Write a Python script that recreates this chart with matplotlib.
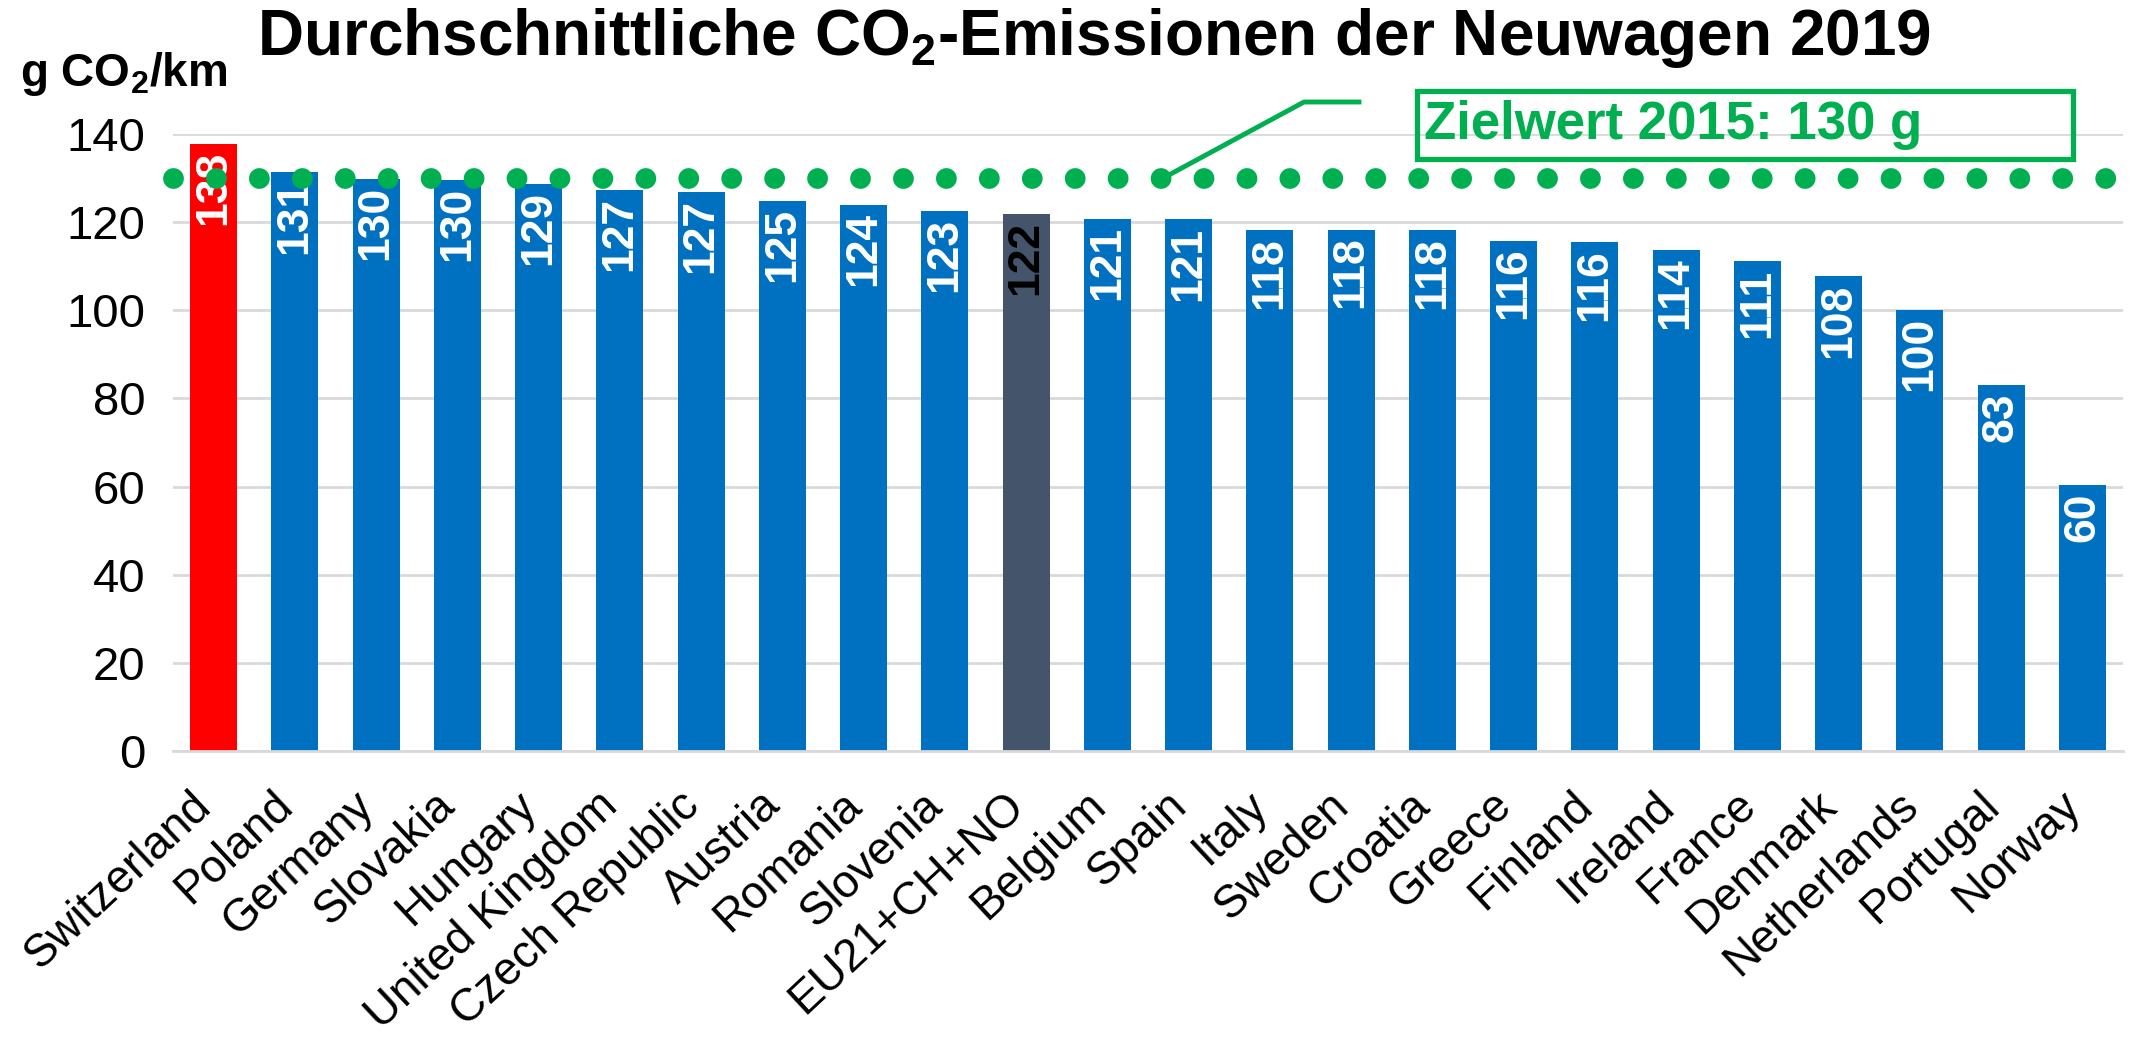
import numpy as np
import matplotlib
matplotlib.use("Agg")
import matplotlib.pyplot as plt
from matplotlib.patches import Rectangle
from matplotlib.lines import Line2D

# Data
countries = ['Switzerland', 'Poland', 'Germany', 'Slovakia', 'Hungary',
             'United Kingdom', 'Czech Republic', 'Austria', 'Romania', 'Slovenia',
             'EU21+CH+NO', 'Belgium', 'Spain', 'Italy', 'Sweden', 'Croatia',
             'Greece', 'Finland', 'Ireland', 'France', 'Denmark', 'Netherlands',
             'Portugal', 'Norway']
values = [137.7, 131.3, 129.8, 129.6, 128.6, 127.2, 126.8, 124.7, 123.8, 122.6,
          121.8, 120.8, 120.6, 118.2, 118.3, 118.2, 115.8, 115.5, 113.6, 111.1,
          107.7, 100.1, 83.0, 60.3]
target = 130
target_label = 'Zielwert 2015: 130 g'
yticks = [0, 20, 40, 60, 80, 100, 120, 140]

plt.rcParams['font.family'] = ['Liberation Sans', 'DejaVu Sans']
plt.rcParams['mathtext.fontset'] = 'custom'
plt.rcParams['mathtext.rm'] = 'Liberation Sans:bold'
plt.rcParams['mathtext.default'] = 'rm'

blue = '#0070C0'
red = '#FF0000'
dark = '#44546A'
green = '#00B050'

colors = [blue] * len(countries)
colors[0] = red
colors[countries.index('EU21+CH+NO')] = dark

fig = plt.figure(figsize=(21.41, 10.46), dpi=100)
ax = fig.add_axes([173 / 2141, 1 - 751 / 1046, 1950 / 2141, (751 - 134) / 1046])

x = np.arange(len(countries))
ax.bar(x, values, width=0.58, color=colors, zorder=2)

# value labels inside the bar tops
for i, v in enumerate(values):
    c = 'black' if colors[i] == dark else 'white'
    ax.annotate(str(int(round(v))), (i, v), xytext=(0, -5), textcoords='offset points',
                rotation=90, ha='center', va='top', color=c, fontsize=32,
                fontweight='bold', zorder=4)

# target line as round dots
ax.axhline(target, color=green, linewidth=15, linestyle=(0, (0.001, 2.06)),
           dash_capstyle='round', zorder=5, clip_on=False)

ax.set_xlim(-0.5, len(countries) - 0.5)
ax.set_ylim(0, 140)
ax.set_yticks(yticks)
ax.set_yticklabels([str(t) for t in yticks], fontsize=34)
ax.set_xticks(x)
ax.set_xticklabels(countries, rotation=43, ha='right', va='baseline',
                   rotation_mode='anchor', fontsize=33)
ax.tick_params(axis='both', length=0)
ax.tick_params(axis='x', pad=41)
ax.tick_params(axis='y', pad=20)
ax.grid(axis='y', color='#D9D9D9', linewidth=2, zorder=0)
for s in ['top', 'right', 'left']:
    ax.spines[s].set_visible(False)
ax.spines['bottom'].set_color('#D9D9D9')
ax.spines['bottom'].set_linewidth(2)

# title and unit
fig.text(1094 / 2141, 1 - 6 / 1046, 'Durchschnittliche CO$_2$-Emissionen der Neuwagen 2019',
         ha='center', va='top', fontsize=46, fontweight='bold')
fig.text(20 / 2141, 1 - 74 / 1046, 'g CO$_2$/km', ha='left', va='center',
         fontsize=33, fontweight='bold')

# target callout
fig.add_artist(Line2D([1167 / 2141, 1304 / 2141, 1359 / 2141],
                      [1 - 176 / 1046, 1 - 102 / 1046, 1 - 102 / 1046],
                      color=green, linewidth=3.5))
fig.add_artist(Rectangle((1417 / 2141, 1 - 159 / 1046), 656 / 2141, 68 / 1046,
                         fill=False, edgecolor=green, linewidth=3.8,
                         transform=fig.transFigure))
fig.text(1424 / 2141, 1 - 125 / 1046, target_label, ha='left', va='center',
         fontsize=38, fontweight='bold', color=green)

fig.savefig('out.png', dpi=100)
